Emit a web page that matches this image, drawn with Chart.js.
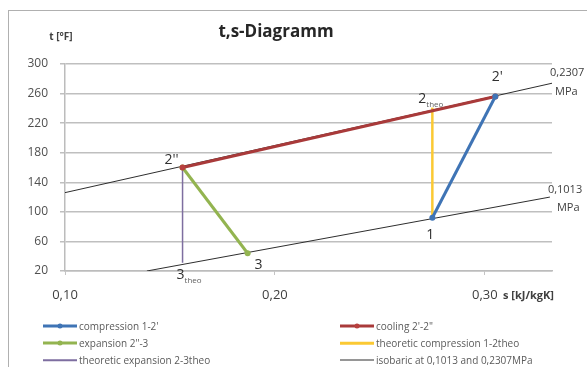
<!DOCTYPE html>
<html>
   <head>
      <meta charset="UTF-8">
      <title>t,s-Diagramm</title>
      <script src="https://cdn.jsdelivr.net/npm/chart.js@4"></script>
      <style>
         body{margin:0;background:#fff;font-family:"Open Sans",sans-serif;}
         #frame{position:absolute;left:8px;top:10px;width:600px;height:400px;border:1px solid #b0b0b0;}
         #wrap{position:absolute;left:0;top:0;width:587px;height:367px;}
         #legend{position:absolute;left:0;top:0;width:587px;height:367px;pointer-events:none;}
         .item{position:absolute;display:flex;align-items:center;font-size:10px;color:#5a5a5a;white-space:nowrap;}
         .swatch{position:relative;width:34px;height:8px;margin-right:2px;}
         .swatch .ln{position:absolute;left:0;right:0;top:50%;transform:translateY(-50%);}
         .swatch .dot{position:absolute;left:50%;top:50%;width:5px;height:5px;border-radius:50%;transform:translate(-50%,-50%);}
      </style>
   </head>
   <body>
        <div id="frame"></div>
        <div id="wrap"><canvas id="chart" width="587" height="367"></canvas></div>
        <div id="legend"></div>

        <script>
            // state points: 1, 2', 2'', 3, 2theo, 3theo
            const pointNames=["1","2'","2''","3","2","3"];
            const pointSubs=["","","","","theo","theo"];
            const pointS=[0.275,0.305,0.156,0.187,0.275,0.156];
            const pointT=[92,256,160,44,241,31];

            // series as pairs of point indices
            const compression=[0,1];
            const cooling=[1,2];
            const expansion=[2,3];
            const theoCompression=[0,4];
            const theoExpansion=[2,5];

            // isobars
            const isoLowS=[0.139,0.331];
            const isoLowT=[20,120];
            const isoHighS=[0.100,0.332];
            const isoHighT=[126,274];
            const isoNames=["0,1013","0,2307"];

            const xTicks=[0.10,0.20,0.30];
            const yTicks=[20,60,100,140,180,220,260,300];

            const FONT='"Open Sans", sans-serif';

            function pts(idx){
               return idx.map(i=>({x:pointS[i],y:pointT[i]}));
            }
            function line(xs,ys){
               return xs.map((v,i)=>({x:v,y:ys[i]}));
            }

            const datasets=[
               {label:"compression 1-2'",data:pts(compression),borderColor:"#3f74b5",backgroundColor:"#3f74b5",borderWidth:3,pointRadius:3,marker:true},
               {label:"cooling 2'-2\"",data:pts(cooling),borderColor:"#a93a3a",backgroundColor:"#b8403e",borderWidth:3,pointRadius:3,marker:true},
               {label:"expansion 2\"-3",data:pts(expansion),borderColor:"#93b450",backgroundColor:"#93b450",borderWidth:3,pointRadius:3,marker:true},
               {label:"theoretic compression 1-2theo",data:pts(theoCompression),borderColor:"#fbc933",borderWidth:2.5,pointRadius:0},
               {label:"theoretic expansion 2-3theo",data:pts(theoExpansion),borderColor:"#7e6ea0",borderWidth:1.5,pointRadius:0},
               {label:"isobaric at 0,1013 and 0,2307MPa",data:line(isoLowS,isoLowT),borderColor:"#2e2e2e",borderWidth:1,pointRadius:0},
               {label:"",data:line(isoHighS,isoHighT),borderColor:"#2e2e2e",borderWidth:1,pointRadius:0,skip:true}
            ];
            datasets.forEach(d=>{d.showLine=true;d.tension=0;d.pointHoverRadius=0;d.pointBorderWidth=0;});

            // label offsets (px) from each state point
            const labelOffsets=[[-2,17],[2,-20],[-11,-7],[11,12],[-10,-9],[-2,12]];

            const textPlugin={
               id:'texts',
               afterDraw(chart){
                  const ctx=chart.ctx;
                  const {x,y}=chart.scales;
                  ctx.save();
                  ctx.textBaseline='middle';
                  // title and axis names
                  ctx.fillStyle='#262626';
                  ctx.font='bold 17px '+FONT;
                  ctx.textAlign='center';
                  ctx.fillText('t,s-Diagramm',276,32);
                  ctx.fillStyle='#404040';
                  ctx.font='bold 10px '+FONT;
                  ctx.fillText('t [°F]',61,37);
                  ctx.textAlign='left';
                  ctx.font='bold 11px '+FONT;
                  ctx.fillText('s [kJ/kgK]',503,296);

                  // state point labels
                  pointNames.forEach((n,i)=>{
                     const px=x.getPixelForValue(pointS[i])+labelOffsets[i][0];
                     const py=y.getPixelForValue(pointT[i])+labelOffsets[i][1];
                     ctx.fillStyle='#303030';
                     ctx.font='14px '+FONT;
                     ctx.textAlign='center';
                     ctx.fillText(n,px,py);
                     if(pointSubs[i]){
                        const w=ctx.measureText(n).width;
                        ctx.font='8px '+FONT;
                        ctx.textAlign='left';
                        ctx.fillStyle='#606060';
                        ctx.fillText(pointSubs[i],px+w/2,py+6);
                     }
                  });

                  // isobar labels
                  ctx.font='11px '+FONT;
                  ctx.fillStyle='#404040';
                  ctx.textAlign='left';
                  const ends=[[isoLowS[1],isoLowT[1],-2,-7,7,11],[isoHighS[1],isoHighT[1],-2,-10,3,9]];
                  ends.forEach((e,i)=>{
                     const px=x.getPixelForValue(e[0]);
                     const py=y.getPixelForValue(e[1]);
                     ctx.fillText(isoNames[i],px+e[2],py+e[3]);
                     ctx.fillText('MPa',px+e[4],py+e[5]);
                  });
                  ctx.restore();
               }
            };

            const chart=new Chart(document.getElementById('chart'),{
               type:'scatter',
               data:{datasets},
               options:{
                  responsive:false,
                  animation:false,
                  devicePixelRatio:1,
                  layout:{padding:{top:64,right:35,left:0,bottom:0}},
                  plugins:{legend:{display:false},tooltip:{enabled:false},title:{display:false}},
                  scales:{
                     x:{
                        type:'linear',min:0.10,max:0.332,
                        afterFit:s=>{s.height=96;},
                        afterBuildTicks:s=>{s.ticks=xTicks.map(v=>({value:v}));},
                        grid:{drawOnChartArea:false,drawTicks:true,tickLength:4,color:'#c4c4c4',lineWidth:1},
                        border:{color:'#bcbcbc',width:1.5},
                        ticks:{padding:12,color:'#404040',font:{family:FONT,size:13},
                           callback:v=>v.toFixed(2).replace('.',','),maxRotation:0}
                     },
                     y:{
                        min:20,max:300,
                        afterFit:s=>{s.width=65;},
                        afterBuildTicks:s=>{s.ticks=yTicks.map(v=>({value:v}));},
                        grid:{color:'#bfbfbf',lineWidth:1.5,tickLength:5},
                        border:{color:'#bcbcbc',width:1.5},
                        ticks:{padding:12,color:'#505050',font:{family:FONT,size:12}}
                     }
                  }
               },
               plugins:[textPlugin]
            });

            // two column legend below the plot
            const legendPos=[[43,326],[340,326],[43,343],[340,343],[43,360],[340,360]];
            const legendBox=document.getElementById('legend');
            datasets.filter(d=>!d.skip).forEach((d,i)=>{
               const item=document.createElement('div');
               item.className='item';
               item.style.left=legendPos[i][0]+'px';
               item.style.top=(legendPos[i][1]-7)+'px';
               item.style.height='14px';
               const sw=document.createElement('div');
               sw.className='swatch';
               const ln=document.createElement('div');
               ln.className='ln';
               ln.style.height=d.borderWidth+'px';
               ln.style.background=d.borderColor;
               sw.appendChild(ln);
               if(d.marker){
                  const dot=document.createElement('div');
                  dot.className='dot';
                  dot.style.background=d.backgroundColor;
                  sw.appendChild(dot);
               }
               item.appendChild(sw);
               item.appendChild(document.createTextNode(d.label));
               legendBox.appendChild(item);
            });
        </script>
   </body>
</html>
